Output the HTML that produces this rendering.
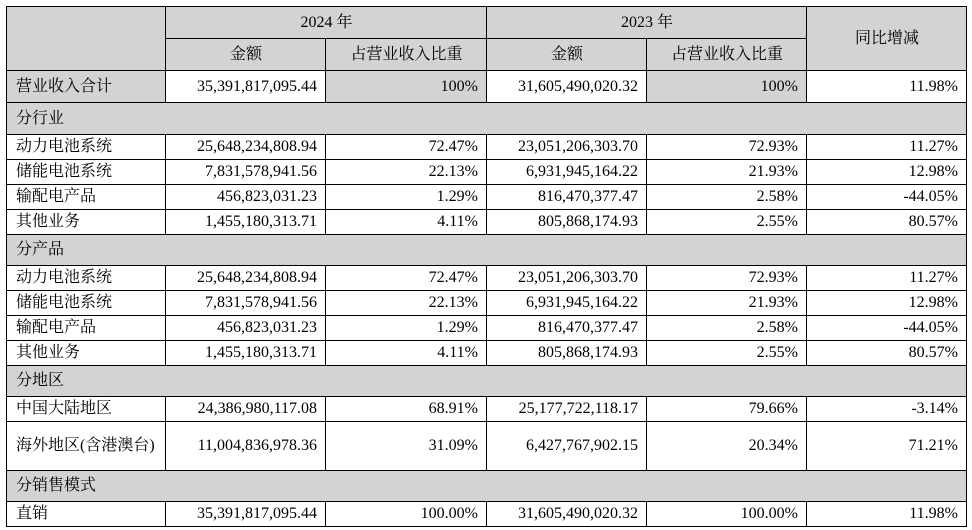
<!DOCTYPE html>
<html><head><meta charset="utf-8"><style>
body{margin:0;background:#fff;}
table{position:absolute;left:6px;top:6px;border-collapse:collapse;table-layout:fixed;font-family:"Liberation Serif","Noto Serif CJK SC",serif;font-size:16px;color:#000;}
td{border:1px solid #000;padding:0 8px 0 9px;white-space:nowrap;overflow:hidden;line-height:18px;}
.g{background:#d3d3d3;}
.c{text-align:center;}
.r{text-align:right;}
.w{white-space:normal;}
</style></head><body>
<table>
<colgroup><col style="width:159px"><col style="width:160px"><col style="width:161px"><col style="width:160px"><col style="width:160px"><col style="width:160px"></colgroup>
<tr style="height:32px"><td class="g" rowspan="2"></td><td class="g c" colspan="2">2024 年</td><td class="g c" colspan="2">2023 年</td><td class="g c" rowspan="2">同比增减</td></tr>
<tr style="height:32px"><td class="g c">金额</td><td class="g c">占营业收入比重</td><td class="g c">金额</td><td class="g c">占营业收入比重</td></tr>
<tr style="height:32px"><td class="g">营业收入合计</td><td class="r">35,391,817,095.44</td><td class="g r">100%</td><td class="r">31,605,490,020.32</td><td class="g r">100%</td><td class="r">11.98%</td></tr>
<tr style="height:32px"><td class="g" colspan="6">分行业</td></tr>
<tr style="height:25px"><td>动力电池系统</td><td class="r">25,648,234,808.94</td><td class="r">72.47%</td><td class="r">23,051,206,303.70</td><td class="r">72.93%</td><td class="r">11.27%</td></tr>
<tr style="height:25px"><td>储能电池系统</td><td class="r">7,831,578,941.56</td><td class="r">22.13%</td><td class="r">6,931,945,164.22</td><td class="r">21.93%</td><td class="r">12.98%</td></tr>
<tr style="height:25px"><td>输配电产品</td><td class="r">456,823,031.23</td><td class="r">1.29%</td><td class="r">816,470,377.47</td><td class="r">2.58%</td><td class="r">-44.05%</td></tr>
<tr style="height:25px"><td>其他业务</td><td class="r">1,455,180,313.71</td><td class="r">4.11%</td><td class="r">805,868,174.93</td><td class="r">2.55%</td><td class="r">80.57%</td></tr>
<tr style="height:31px"><td class="g" colspan="6">分产品</td></tr>
<tr style="height:25px"><td>动力电池系统</td><td class="r">25,648,234,808.94</td><td class="r">72.47%</td><td class="r">23,051,206,303.70</td><td class="r">72.93%</td><td class="r">11.27%</td></tr>
<tr style="height:25px"><td>储能电池系统</td><td class="r">7,831,578,941.56</td><td class="r">22.13%</td><td class="r">6,931,945,164.22</td><td class="r">21.93%</td><td class="r">12.98%</td></tr>
<tr style="height:25px"><td>输配电产品</td><td class="r">456,823,031.23</td><td class="r">1.29%</td><td class="r">816,470,377.47</td><td class="r">2.58%</td><td class="r">-44.05%</td></tr>
<tr style="height:25px"><td>其他业务</td><td class="r">1,455,180,313.71</td><td class="r">4.11%</td><td class="r">805,868,174.93</td><td class="r">2.55%</td><td class="r">80.57%</td></tr>
<tr style="height:31px"><td class="g" colspan="6">分地区</td></tr>
<tr style="height:25px"><td>中国大陆地区</td><td class="r">24,386,980,117.08</td><td class="r">68.91%</td><td class="r">25,177,722,118.17</td><td class="r">79.66%</td><td class="r">-3.14%</td></tr>
<tr style="height:49px"><td class="w" style="line-height:22px">海外地区(含港澳台)</td><td class="r">11,004,836,978.36</td><td class="r">31.09%</td><td class="r">6,427,767,902.15</td><td class="r">20.34%</td><td class="r">71.21%</td></tr>
<tr style="height:31px"><td class="g" colspan="6">分销售模式</td></tr>
<tr style="height:25px"><td>直销</td><td class="r">35,391,817,095.44</td><td class="r">100.00%</td><td class="r">31,605,490,020.32</td><td class="r">100.00%</td><td class="r">11.98%</td></tr>
</table>
</body></html>
